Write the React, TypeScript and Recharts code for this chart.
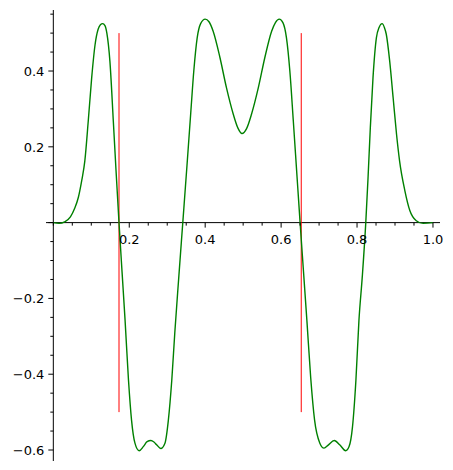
import { LineChart, Line, XAxis, YAxis, ReferenceLine } from 'recharts'

// curve samples
const xs = [
  0.0, 0.015, 0.03, 0.045, 0.056, 0.066, 0.075, 0.083, 0.092, 0.101, 0.11, 0.118, 0.124, 0.13, 0.136, 0.141,
  0.149, 0.158, 0.165, 0.173, 0.181, 0.189, 0.198, 0.206, 0.215, 0.226, 0.237, 0.247, 0.257, 0.265, 0.272,
  0.283, 0.294, 0.303, 0.312, 0.32, 0.33, 0.341, 0.352, 0.362, 0.37, 0.379, 0.388, 0.4, 0.41, 0.421, 0.439,
  0.456, 0.474, 0.486, 0.497, 0.509, 0.522, 0.54, 0.557, 0.575, 0.585, 0.595, 0.605, 0.614, 0.623, 0.632,
  0.641, 0.65, 0.659, 0.668, 0.678, 0.688, 0.702, 0.713, 0.724, 0.74, 0.755, 0.77, 0.779, 0.788, 0.797, 0.805,
  0.814, 0.823, 0.829, 0.835, 0.842, 0.851, 0.858, 0.866, 0.872, 0.877, 0.886, 0.895, 0.904, 0.912, 0.926,
  0.939, 0.956, 0.974, 1.0,
]
const ys = [
  0.0, -0.002, 0.002, 0.015, 0.037, 0.067, 0.112, 0.163, 0.268, 0.382, 0.47, 0.51, 0.522, 0.525, 0.52, 0.5,
  0.426, 0.268, 0.14, 0.0, -0.13, -0.258, -0.416, -0.521, -0.582, -0.602, -0.591, -0.578, -0.575, -0.579, -0.586,
  -0.596, -0.582, -0.521, -0.416, -0.29, -0.15, 0.0, 0.15, 0.29, 0.4, 0.488, 0.525, 0.537, 0.53, 0.505, 0.435,
  0.356, 0.286, 0.25, 0.235, 0.248, 0.286, 0.356, 0.435, 0.505, 0.528, 0.537, 0.527, 0.488, 0.4, 0.27,
  0.135, 0.0, -0.13, -0.26, -0.41, -0.52, -0.582, -0.595, -0.587, -0.575, -0.587, -0.602, -0.591, -0.539, -0.416, -0.258,
  -0.14, 0.0, 0.119, 0.251, 0.382, 0.488, 0.515, 0.525, 0.515, 0.497, 0.426, 0.33, 0.233, 0.163, 0.084,
  0.032, 0.005, -0.002, 0.0,
]

// vertical markers (x position, from y to y)
const markerXs = [0.173, 0.653]
const markerRange = [-0.5, 0.5]

const xTicks = [0, 0.05, 0.1, 0.15, 0.2, 0.25, 0.3, 0.35, 0.4, 0.45, 0.5, 0.55, 0.6, 0.65, 0.7, 0.75, 0.8, 0.85, 0.9, 0.95, 1.0]
const xLabels = [0.2, 0.4, 0.6, 0.8, 1.0]
const yTicks = [-0.6, -0.55, -0.5, -0.45, -0.4, -0.35, -0.3, -0.25, -0.2, -0.15, -0.1, -0.05, 0, 0.05, 0.1, 0.15, 0.2, 0.25, 0.3, 0.35, 0.4, 0.45, 0.5, 0.55]
const yLabels = [-0.6, -0.4, -0.2, 0.2, 0.4]

const data = xs.map((x, i) => ({ x, y: ys[i] }))

const W = 453
const H = 470
const margin = { top: 10, right: 13, bottom: 4, left: 41 }
const axisSize = 5
const xDomain = [-0.0193, 1.0185]
const yDomain = [-0.629, 0.561]

// pixel position of the axes crossing at (0, 0)
const plotLeft = margin.left + axisSize
const plotTop = margin.top
const plotW = W - plotLeft - margin.right
const plotH = H - margin.top - margin.bottom - axisSize
const X0 = plotLeft + (plotW * (0 - xDomain[0])) / (xDomain[1] - xDomain[0])
const Y0 = plotTop + (plotH * (yDomain[1] - 0)) / (yDomain[1] - yDomain[0])

const font = 'DejaVu Sans'
const isIn = (list: number[], v: number) => list.some((l) => Math.abs(l - v) < 1e-9)
const fmt = (v: number) => (v < 0 ? '\u2212' : '') + Math.abs(v).toFixed(1)

const renderXTick = (props: any) => {
  const { x, payload } = props
  const major = isIn(xLabels, payload.value)
  return (
    <g key={`xt-${payload.value}`}>
      <line x1={x} x2={x} y1={Y0} y2={Y0 + (major ? 5 : 3)} stroke="#000" strokeWidth={1} />
      {major && (
        <text x={x} y={Y0 + 21} textAnchor="middle" fontFamily={font} fontSize={13} fill="#000">
          {fmt(payload.value)}
        </text>
      )}
    </g>
  )
}

const renderYTick = (props: any) => {
  const { y, payload } = props
  const labelled = isIn(yLabels, payload.value)
  const major = labelled || payload.value === 0
  return (
    <g key={`yt-${payload.value}`}>
      <line x1={X0 - (major ? 5 : 3)} x2={X0} y1={y} y2={y} stroke="#000" strokeWidth={1} />
      {labelled && (
        <text x={X0 - 9} y={y + 4.7} textAnchor="end" fontFamily={font} fontSize={13} fill="#000">
          {fmt(payload.value)}
        </text>
      )}
    </g>
  )
}

export default function App() {
  return (
    <div style={{ position: 'absolute', left: 0, top: 0, background: '#fff' }}>
      <LineChart width={W} height={H} data={data} margin={margin}>
        <XAxis
          type="number"
          dataKey="x"
          domain={xDomain}
          allowDataOverflow
          ticks={xTicks}
          interval={0}
          height={axisSize}
          axisLine={false}
          tickLine={false}
          tick={renderXTick}
        />
        <YAxis
          type="number"
          domain={yDomain}
          allowDataOverflow
          ticks={yTicks}
          interval={0}
          width={axisSize}
          axisLine={false}
          tickLine={false}
          tick={renderYTick}
        />
        <ReferenceLine y={0} stroke="#000" strokeWidth={1} />
        <ReferenceLine x={0} stroke="#000" strokeWidth={1} />
        {markerXs.map((mx) => (
          <ReferenceLine
            key={mx}
            segment={[
              { x: mx, y: markerRange[0] },
              { x: mx, y: markerRange[1] },
            ]}
            stroke="#ff0000"
            strokeWidth={1}
          />
        ))}
        <Line
          type="monotone"
          dataKey="y"
          stroke="#008000"
          strokeWidth={1.4}
          dot={false}
          isAnimationActive={false}
        />
      </LineChart>
    </div>
  )
}
